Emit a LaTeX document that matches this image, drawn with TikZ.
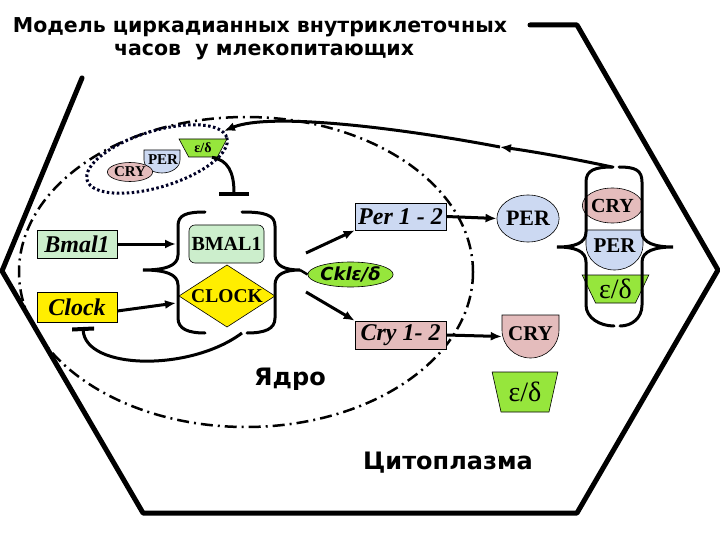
\documentclass[tikz,border=0pt]{standalone}
\usepackage{fontspec}
\setmainfont{Liberation Serif}
\newfontfamily\titlefont{DejaVu Sans}
\usetikzlibrary{arrows.meta,shapes.geometric}
\definecolor{lgreen}{RGB}{204,238,204}
\definecolor{yelc}{RGB}{255,238,0}
\definecolor{lblue}{RGB}{204,217,242}
\definecolor{pinkc}{RGB}{228,188,188}
\definecolor{bgreen}{RGB}{150,230,60}
\newcommand{\fs}[1]{\fontsize{#1}{#1}\selectfont}
\tikzset{
  hexline/.style={line width=5pt, line join=round, line cap=round},
  nucline/.style={line width=2.5pt, dash pattern=on 12pt off 5pt on 2pt off 5pt},
  dotline/.style={line width=3pt, dash pattern=on 2.5pt off 2.5pt, draw=black!85!blue},
  brk/.style={line width=3pt, line cap=round},
  arr/.style={line width=3pt, -{Latex[length=11pt,width=9pt]}},
  inhib/.style={line width=3pt},
  genebox/.style={draw=black, line width=0.6pt, inner sep=0pt, font=\bfseries\itshape\fs{24}},
  prot/.style={draw=black, line width=0.6pt, inner sep=0pt, font=\bfseries\fs{20}},
  edtrap/.style={trapezium, trapezium stretches=true, shape border rotate=180, draw=black, line width=0.6pt, fill=bgreen, inner sep=0pt},
  lab/.style={font=\titlefont\bfseries\fs{24}}
}
\begin{document}
\begin{tikzpicture}[x=1pt,y=-1pt]
\useasboundingbox (0,0) rectangle (720,540);
% title
\node[font=\titlefont\bfseries\fs{20.5}] (t1) at (260,27) {Модель циркадианных внутриклеточных};
\node[font=\titlefont\bfseries\fs{20.5}] (t2) at (264,52) {часов\ \ у млекопитающих};
% cell outline
\draw[hexline] (530,25) -- (577,25) -- (718,270) -- (577,513) -- (143,513) -- (2,271) -- (82,78);
% nucleus
\draw[nucline] (246,272) ellipse [x radius=227, y radius=155];
% dotted complex ellipse
\draw[dotline, rotate around={17:(157,159)}] (157,159) ellipse [x radius=73, y radius=28];
% small complex
\filldraw[fill=lblue, draw=black, line width=0.6pt] (144,150) -- (180,150) -- (180,160) arc[start angle=0, end angle=180, x radius=18, y radius=13] -- cycle;
\node[font=\bfseries\fs{15}] (per1) at (163,160) {PER};
\node[prot, ellipse, fill=pinkc, minimum width=37, minimum height=19, font=\bfseries\fs{15}] (cry1) at (130,172) {CRY};
\node[edtrap, trapezium left angle=60, trapezium right angle=60, minimum width=48, minimum height=18, font=\bfseries\fs{14}] (ed1) at (203,148) {ε/δ};
% genes
\node[genebox, fill=lgreen, minimum width=80, minimum height=28] (bmal) at (77,244) {Bmal1};
\node[genebox, fill=yelc, minimum width=80, minimum height=30] (clock) at (77,307) {Clock};
% BMAL1 / CLOCK
\node[prot, rounded corners=6pt, fill=lgreen, minimum width=75, minimum height=38, font=\bfseries\fs{20}] (bmalp) at (226.5,244) {BMAL1};
\filldraw[fill=yelc, draw=black, line width=0.6pt] (179,296) -- (227,265) -- (275,296) -- (227,327) -- cycle;
\node[font=\bfseries\fs{19.5}] (clockp) at (227,296) {CLOCK};
% left bracket
\draw[brk] (205,212) .. controls (186,212) and (178,215) .. (178,226) -- (178,255) .. controls (178,266) and (165,270) .. (143,270) .. controls (165,270) and (178,274) .. (178,285) -- (178,318) .. controls (178,329) and (188,333) .. (205,333);
\draw[brk] (242,212) .. controls (265,212) and (275,215) .. (275,226) -- (275,255) .. controls (275,266) and (285,270) .. (300,270) .. controls (285,270) and (275,274) .. (275,285) -- (275,318) .. controls (275,329) and (265,333) .. (247,333);
\coordinate (btip) at (300,270);
\coordinate (lb1) at (176,244);
\coordinate (lb2) at (176,303);
\draw[arr] (bmal.east) -- (lb1);
\draw[arr] ([yshift=-4pt]clock.east) -- (lb2);
% inhibition to bracket
\coordinate (bar1) at (234,196);
\draw[inhib, -{Bar[width=30pt,line width=4pt]}] ([xshift=9pt]ed1.south) .. controls (228,160) and (234,172) .. (bar1);
% inhibition to Clock
\coordinate (bstart) at (242,333);
\coordinate (bar2) at (83,327);
\draw[inhib, -{Bar[width=22pt,line width=4pt]}] (bstart) .. controls (190,372) and (85,370) .. (bar2);
% Ckl and targets
\node[prot, ellipse, fill=bgreen, minimum width=85, minimum height=25, font=\titlefont\bfseries\itshape\fs{18}] (ckl) at (350.5,274.5) {Cklε/δ};
\draw[line width=2.5pt] (btip) -- (ckl.west);
\node[genebox, fill=lblue, minimum width=91, minimum height=27] (per) at (400.5,216.5) {Per 1 - 2};
\node[genebox, fill=pinkc, minimum width=91, minimum height=28] (cry) at (400.5,335) {Cry 1- 2};
\coordinate (c1) at (306,253);
\coordinate (c2) at (306,292);
\draw[arr] (c1) -- (per.south west);
\draw[arr] (c2) -- (cry.north west);
% cytoplasm proteins
\node[prot, ellipse, fill=lblue, minimum width=62, minimum height=47, font=\bfseries\fs{22}] (perb) at (528,218.5) {PER};
\filldraw[fill=pinkc, draw=black, line width=0.6pt] (502,315) -- (559,315) -- (559,330) arc[start angle=0, end angle=180, x radius=28.5, y radius=28] -- cycle;
\node[inner sep=0pt, minimum width=57, minimum height=43] (cryb) at (530.5,336.5) {};
\node[font=\bfseries\fs{21}] (cryt) at (530.5,334) {CRY};
\draw[arr] (per.east) -- (perb.west);
\draw[arr] (cry.east) -- (cryb.west);
\node[edtrap, trapezium left angle=73, trapezium right angle=73, minimum width=66, minimum height=40, font=\fs{28}] (ed2) at (525,392) {ε/δ};
% right complex
\node[prot, ellipse, fill=pinkc, minimum width=51, minimum height=35, font=\bfseries\fs{20}] (cry3) at (612.5,205.5) {CRY};
\filldraw[fill=lblue, draw=black, line width=0.6pt] (586,230) -- (643,230) -- (643,245) arc[start angle=0, end angle=180, x radius=28.5, y radius=25] -- cycle;
\node[font=\bfseries\fs{21}] (per3) at (614.5,246) {PER};
\node[edtrap, trapezium left angle=61, trapezium right angle=61, minimum width=67, minimum height=28, font=\fs{28}] (ed3) at (615.5,289) {ε/δ};
\draw[brk] (613,167) .. controls (595,167) and (586,170) .. (586,182) -- (586,232) .. controls (586,243) and (575,247) .. (557,247) .. controls (575,247) and (586,251) .. (586,262) -- (586,305) .. controls (586,318) and (600,326) .. (614,326);
\draw[brk] (619,167) .. controls (635,167) and (642,170) .. (642,182) -- (642,232) .. controls (642,243) and (655,247) .. (673,247) .. controls (655,247) and (642,251) .. (642,262) -- (642,305) .. controls (642,318) and (632,326) .. (620,326);
% export arrow
\coordinate (rtop) at (612,167);
\coordinate (mid) at (500,147);
\draw[arr] (rtop) .. controls (570,158) and (530,151) .. (mid);
\draw[arr] (mid) .. controls (400,128) and (270,112) .. (224,131);
% labels
\node[lab] (yadro) at (290,379) {Ядро};
\node[lab] (cyto) at (448,463) {Цитоплазма};
\end{tikzpicture}
\end{document}
